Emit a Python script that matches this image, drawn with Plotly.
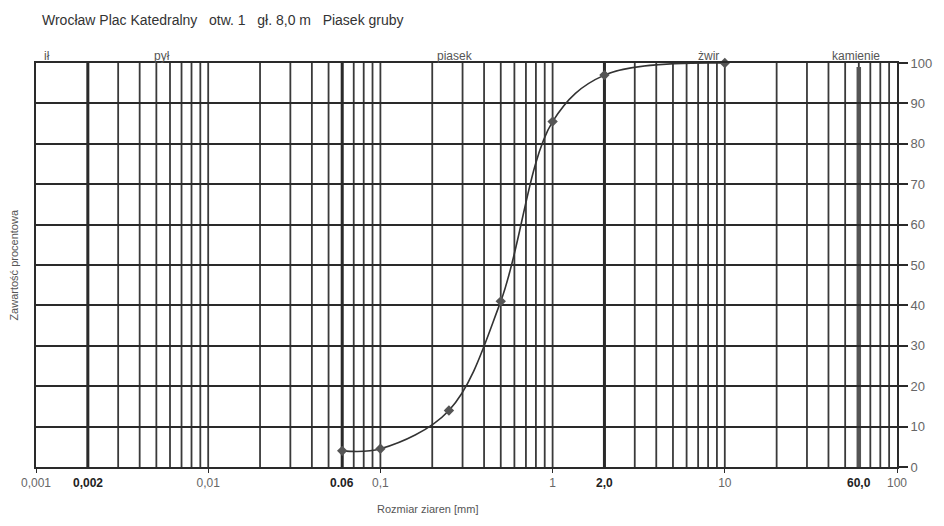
import math
import plotly.graph_objects as go

grain_mm = [0.06, 0.1, 0.25, 0.5, 1.0, 2.0, 10.0]
passing_pct = [4.0, 4.5, 14.0, 41.0, 85.5, 97.0, 100.0]

tick_vals = [0.001, 0.01, 0.1, 1, 10, 100]
tick_text = ["0,001", "0,01", "0,1", "1", "10", "100"]
bold_vals = [0.002, 0.06, 2.0, 60.0]
bold_text = ["0,002", "0.06", "2,0", "60,0"]
fraction_names = ["ił", "pył", "piasek", "żwir", "kamienie"]
fraction_pos = [0.00116, 0.0054, 0.27, 8.0, 58.0]

GRID = "#3a3a3a"
fig = go.Figure()
fig.add_trace(go.Scatter(
    x=grain_mm, y=passing_pct, mode="lines+markers",
    line=dict(color="#333333", width=1.6, shape="spline", smoothing=1.0),
    marker=dict(symbol="diamond", size=8, color="#555555"),
    showlegend=False, cliponaxis=False))

shapes = []
decades = [0.001, 0.01, 0.1, 1, 10]
for d in decades:
    for k in range(2, 10):
        v = d * k
        shapes.append(dict(type="line", xref="x", yref="paper", x0=v, x1=v, y0=0, y1=1,
                           line=dict(color=GRID, width=1.8), layer="below"))
for v in bold_vals:
    if v == 60.0:
        shapes.append(dict(type="line", xref="x", yref="paper", x0=v, x1=v, y0=0, y1=0.99,
                           line=dict(color="#555555", width=4.5), layer="below"))
    else:
        shapes.append(dict(type="line", xref="x", yref="paper", x0=v, x1=v, y0=0, y1=1,
                           line=dict(color="#2a2a2a", width=3), layer="below"))
for v in tick_vals[1:-1]:
    shapes.append(dict(type="line", xref="x", yref="paper", x0=v, x1=v, y0=0, y1=1,
                       line=dict(color=GRID, width=1.8), layer="below"))

annotations = []
for v, t in zip(bold_vals, bold_text):
    annotations.append(dict(x=math.log10(v), y=0, xref="x", yref="paper", text="<b>" + t + "</b>",
                            showarrow=False, yanchor="top", yshift=-7,
                            font=dict(size=12, color="#222222")))
for v, t in zip(fraction_pos, fraction_names):
    annotations.append(dict(x=math.log10(v), y=1, xref="x", yref="paper", text=t, showarrow=False,
                            yanchor="bottom", yshift=-2,
                            font=dict(size=12, color="#555555")))
annotations.append(dict(x=-0.026, y=0.5, xref="paper", yref="paper", xanchor="center",
                        text="Zawartość procentowa", textangle=-90, showarrow=False,
                        font=dict(size=11, color="#555555")))
annotations.append(dict(x=0.455, y=-0.085, xref="paper", yref="paper",
                        text="Rozmiar ziaren [mm]", showarrow=False, yanchor="top",
                        font=dict(size=11, color="#555555")))
annotations.append(dict(x=0.005, y=1.0, xref="paper", yref="paper", xanchor="left",
                        yanchor="bottom", yshift=33,
                        text="Wrocław Plac Katedralny&nbsp;&nbsp;&nbsp;otw. 1&nbsp;&nbsp;&nbsp;gł. 8,0 m&nbsp;&nbsp;&nbsp;Piasek gruby",
                        showarrow=False, font=dict(size=14, color="#333333")))

fig.update_layout(
    width=944, height=526,
    margin=dict(l=36, r=39, t=63, b=59),
    paper_bgcolor="white", plot_bgcolor="white",
    font=dict(family="Liberation Sans, Arial, sans-serif"),
    shapes=shapes, annotations=annotations,
    xaxis=dict(type="log", range=[-3, 2], tickvals=tick_vals, ticktext=tick_text,
               showgrid=False, zeroline=False, showline=True, linecolor="#2a2a2a",
               linewidth=2, mirror=True, ticks="outside", ticklen=4, tickcolor="#2a2a2a",
               tickfont=dict(size=12, color="#666666")),
    yaxis=dict(range=[0, 100], dtick=10, side="right", showgrid=True, gridcolor="#2a2a2a",
               gridwidth=2, zeroline=False, showline=True, linecolor="#2a2a2a", linewidth=2,
               mirror=True, ticks="outside", ticklen=9, tickwidth=2, tickcolor="#2a2a2a",
               tickfont=dict(size=13, color="#666666")),
)
fig.write_html("out.html")
